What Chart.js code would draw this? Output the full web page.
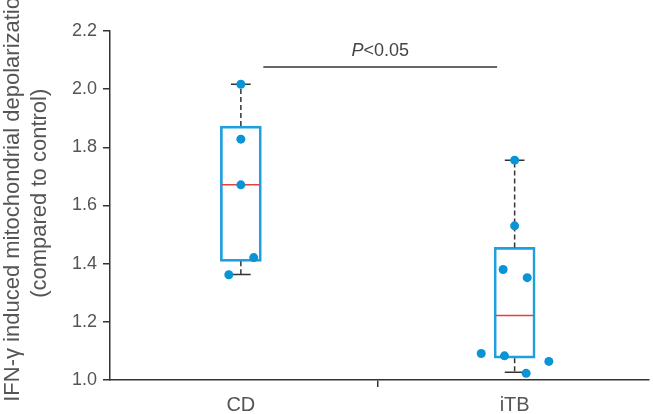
<!DOCTYPE html>
<html>
<head>
<meta charset="utf-8">
<script src="https://cdn.jsdelivr.net/npm/chart.js"></script>
<style>
  html, body { margin: 0; padding: 0; background: #ffffff; }
  .wrap { width: 653px; height: 414px; }
</style>
</head>
<body>
<div class="wrap"><canvas id="boxChart"></canvas></div>
<script>
  // box statistics per group
  const groups = ["CD", "iTB"];
  const whiskerLow = [1.363, 1.027];
  const q1 = [1.408, 1.075];
  const median = [1.671, 1.222];
  const q3 = [1.873, 1.456];
  const whiskerHigh = [2.017, 1.756];

  // individual points (value + horizontal jitter in category units)
  const cdPoints = [2.017, 1.828, 1.671, 1.421, 1.362];
  const cdJitter = [0, 0, 0, 0.047, -0.044];
  const itbPoints = [1.756, 1.53, 1.38, 1.352, 1.091, 1.083, 1.064, 1.023];
  const itbJitter = [0, 0, -0.042, 0.046, -0.122, -0.037, 0.125, 0.042];

  // significance bracket
  const sigX = [1.082, 1.936];
  const sigY = 2.076;
  const sigLabel = ["P", "<0.05"];

  const yTicks = [1.0, 1.2, 1.4, 1.6, 1.8, 2.0, 2.2];

  const FONT = '"Liberation Sans", Arial, sans-serif';
  const DARK = "#333333";
  const BLUE = "#1f9fde";
  const DOT = "#0a94d6";
  const RED = "#e8413c";

  const capHalf = 0.036;
  const medHalf = 0.069;

  const seg = (pts, color, dash, width) => ({
    type: "line",
    data: pts,
    borderColor: color,
    borderWidth: width,
    borderDash: dash,
    pointRadius: 0,
    fill: false,
    order: 2,
  });

  const datasets = [];
  datasets.push({
    type: "bar",
    data: groups.map((g, i) => ({ x: i + 1, y: [q1[i], q3[i]] })),
    backgroundColor: "rgba(0,0,0,0)",
    borderColor: BLUE,
    borderWidth: 2,
    borderSkipped: false,
    barThickness: 41,
    order: 3,
  });
  groups.forEach((g, i) => {
    const cx = i + 1;
    datasets.push(seg([{ x: cx, y: q3[i] }, { x: cx, y: whiskerHigh[i] }], DARK, [5, 3], 1.5));
    datasets.push(seg([{ x: cx, y: q1[i] }, { x: cx, y: whiskerLow[i] }], DARK, [5, 3], 1.5));
    datasets.push(seg([{ x: cx - capHalf, y: whiskerHigh[i] }, { x: cx + capHalf, y: whiskerHigh[i] }], DARK, [], 1.5));
    datasets.push(seg([{ x: cx - capHalf, y: whiskerLow[i] }, { x: cx + capHalf, y: whiskerLow[i] }], DARK, [], 1.5));
    datasets.push(seg([{ x: cx - medHalf, y: median[i] }, { x: cx + medHalf, y: median[i] }], RED, [], 1.5));
  });
  datasets.push(seg([{ x: sigX[0], y: sigY }, { x: sigX[1], y: sigY }], DARK, [], 1.5));
  datasets.push({
    type: "scatter",
    data: cdPoints.map((v, k) => ({ x: 1 + cdJitter[k], y: v }))
      .concat(itbPoints.map((v, k) => ({ x: 2 + itbJitter[k], y: v }))),
    backgroundColor: DOT,
    borderColor: DOT,
    pointRadius: 4.5,
    borderWidth: 0,
    order: 0,
  });

  const sigPlugin = {
    id: "sigLabel",
    afterDatasetsDraw(chart) {
      const { ctx, scales } = chart;
      const cx = scales.x.getPixelForValue((sigX[0] + sigX[1]) / 2);
      const cy = scales.y.getPixelForValue(sigY) - 7;
      ctx.save();
      ctx.fillStyle = "#444444";
      ctx.textBaseline = "bottom";
      ctx.font = "italic 18px " + FONT;
      const pW = ctx.measureText(sigLabel[0]).width;
      ctx.font = "18px " + FONT;
      const rW = ctx.measureText(sigLabel[1]).width;
      const left = cx - (pW + rW) / 2;
      ctx.font = "italic 18px " + FONT;
      ctx.fillText(sigLabel[0], left, cy);
      ctx.font = "18px " + FONT;
      ctx.fillText(sigLabel[1], left + pW, cy);
      ctx.restore();
    },
  };

  // leading blanks nudge the rotated title up a little, as in the source figure
  const pad = "\u00a0\u00a0\u00a0\u00a0";

  new Chart(document.getElementById("boxChart"), {
    type: "bar",
    data: { datasets },
    plugins: [sigPlugin],
    options: {
      responsive: true,
      maintainAspectRatio: false,
      animation: false,
      layout: { padding: { top: 31, right: 0, bottom: 0, left: 0 } },
      plugins: { legend: { display: false }, tooltip: { enabled: false } },
      scales: {
        x: {
          type: "linear",
          offset: false,
          min: 0.522,
          max: 2.489,
          afterBuildTicks: (s) => { s.ticks = [{ value: 1 }, { value: 2 }]; },
          afterFit: (s) => { s.height = 34; },
          ticks: {
            callback: (v) => groups[Math.round(v) - 1],
            color: "#555555",
            font: { family: FONT, size: 20 },
            padding: 6,
            maxRotation: 0,
          },
          grid: {
            offset: true,
            drawOnChartArea: false,
            color: DARK,
            tickLength: 7,
            lineWidth: 1.5,
          },
          border: { color: DARK, width: 1.5 },
        },
        y: {
          min: 1.0,
          max: 2.2,
          afterBuildTicks: (s) => { s.ticks = yTicks.map((v) => ({ value: v })); },
          afterFit: (s) => { s.width = 110; },
          ticks: {
            callback: (v) => v.toFixed(1),
            color: "#555555",
            font: { family: FONT, size: 18 },
            padding: 6,
          },
          grid: {
            drawOnChartArea: false,
            color: DARK,
            tickLength: 7,
            lineWidth: 1.5,
          },
          border: { color: DARK, width: 1.5 },
          title: {
            display: true,
            text: [pad + "IFN-\u03b3 induced mitochondrial depolarization", pad + "(compared to control)"],
            color: "#555555",
            font: { family: FONT, size: 22, lineHeight: 1.2 },
            padding: { top: 0, bottom: 0 },
          },
        },
      },
    },
  });
</script>
</body>
</html>
